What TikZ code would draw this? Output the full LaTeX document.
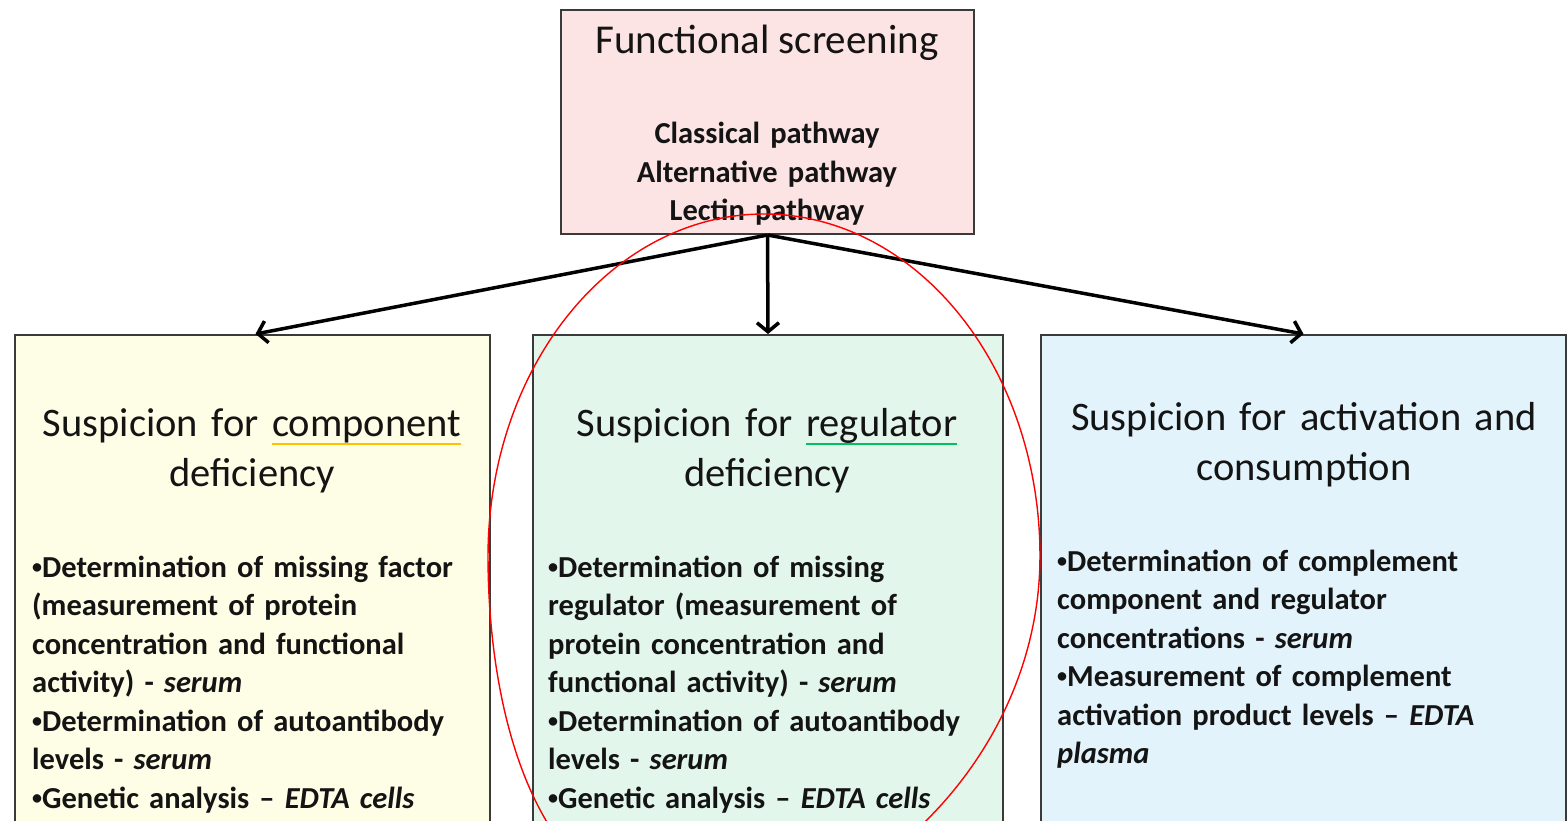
\documentclass[tikz,border=0pt]{standalone}
\usepackage{fontspec}
\setmainfont{Carlito}
\usetikzlibrary{arrows.meta}
\definecolor{pinkfill}{HTML}{FCE4E4}
\definecolor{yelfill}{HTML}{FEFDE5}
\definecolor{grnfill}{HTML}{E3F6EC}
\definecolor{bluefill}{HTML}{E2F3FB}
\definecolor{boxline}{HTML}{3A3A3A}
\definecolor{ulorange}{HTML}{FFC000}
\definecolor{ulgreen}{HTML}{00C060}
\definecolor{txt}{HTML}{141414}
\newcommand{\ulc}[2]{\setbox0\hbox{#2}\rlap{\color{#1}\rule[-9pt]{\wd0}{2.5pt}}\box0}
\newcommand{\bul}{{\fontsize{20}{20}\selectfont\raisebox{4pt}{•}}}
\newcommand{\bi}[1]{{\itshape #1}}
\tikzset{
  box/.style={draw=boxline, line width=2pt, inner sep=0, anchor=north west},
  arr/.style={line width=3.5pt, -{Straight Barb[length=9pt,width=22pt,line width=3.5pt]}},
  title/.style={inner sep=0, anchor=base, text=txt, font=\fontsize{41}{48}\selectfont},
  paths/.style={text width=400pt, align=center, inner sep=0, anchor=base, text=txt, font=\fontsize{30.5}{38.5}\selectfont\bfseries},
  head/.style={text width=500pt, align=center, inner sep=0, anchor=base, text=txt, font=\fontsize{40.5}{50}\selectfont},
  body/.style={text width=500pt, align=left, inner sep=0, anchor=base west, text=txt, font=\fontsize{30.5}{38.5}\selectfont\bfseries},
}
\begin{document}
\begin{tikzpicture}[x=1pt,y=-1pt]
\path[use as bounding box, clip] (0,0) rectangle (1568,821);
\fill[white] (0,0) rectangle (1568,821);
% boxes
\node[box, fill=pinkfill, minimum width=413pt, minimum height=224pt] (top) at (560,9) {};
\node[box, fill=yelfill, minimum width=475pt, minimum height=520pt] (lb) at (14,334) {};
\node[box, fill=grnfill, minimum width=470pt, minimum height=520pt] (mb) at (532,334) {};
\node[box, fill=bluefill, minimum width=525pt, minimum height=520pt] (rb) at (1040,334) {};
% arrows
\coordinate (lbt) at ([xshift=3pt]lb.north);
\draw[arr] (top.south) -- (lbt);
\draw[arr] (top.south) -- (mb.north);
\draw[arr] (top.south) -- (rb.north);
% top texts
\node[title] (ttl) at (767,54) {Functional screening};
\node[paths] (pw) at (767,144) {Classical pathway\\Alternative pathway\\Lectin pathway};
% headings
\node[head] (lh) at (252,436) {Suspicion for \ulc{ulorange}{component}\\deficiency};
\node[head] (mh) at (767,436) {Suspicion for \ulc{ulgreen}{regulator}\\deficiency};
\node[head] (rh) at (1304,430) {Suspicion for activation and\\consumption};
% bodies
\node[body] (lt) at (32,577) {\bul Determination of missing factor\\(measurement of protein\\concentration and functional\\activity) - \bi{serum}\\\bul Determination of autoantibody\\levels - \bi{serum}\\\bul Genetic analysis – \bi{EDTA cells}};
\node[body] (mt) at (548,577) {\bul Determination of missing\\regulator (measurement of\\protein concentration and\\functional activity) - \bi{serum}\\\bul Determination of autoantibody\\levels - \bi{serum}\\\bul Genetic analysis – \bi{EDTA cells}};
\node[body] (rt) at (1057,571) {\bul Determination of complement\\component and regulator\\concentrations - \bi{serum}\\\bul Measurement of complement\\activation product levels – \bi{EDTA}\\\bi{plasma}};
% red ellipse
\draw[red, line width=1.4pt]
  plot[domain=0:180, samples=80, smooth] ({764+276*cos(\x)}, {556-342*sin(\x)})
  -- plot[domain=180:360, samples=80, smooth] ({764+276*cos(\x)-53*sin(\x)*sin(\x)}, {556-365*sin(\x)}) -- cycle;
\end{tikzpicture}
\end{document}
